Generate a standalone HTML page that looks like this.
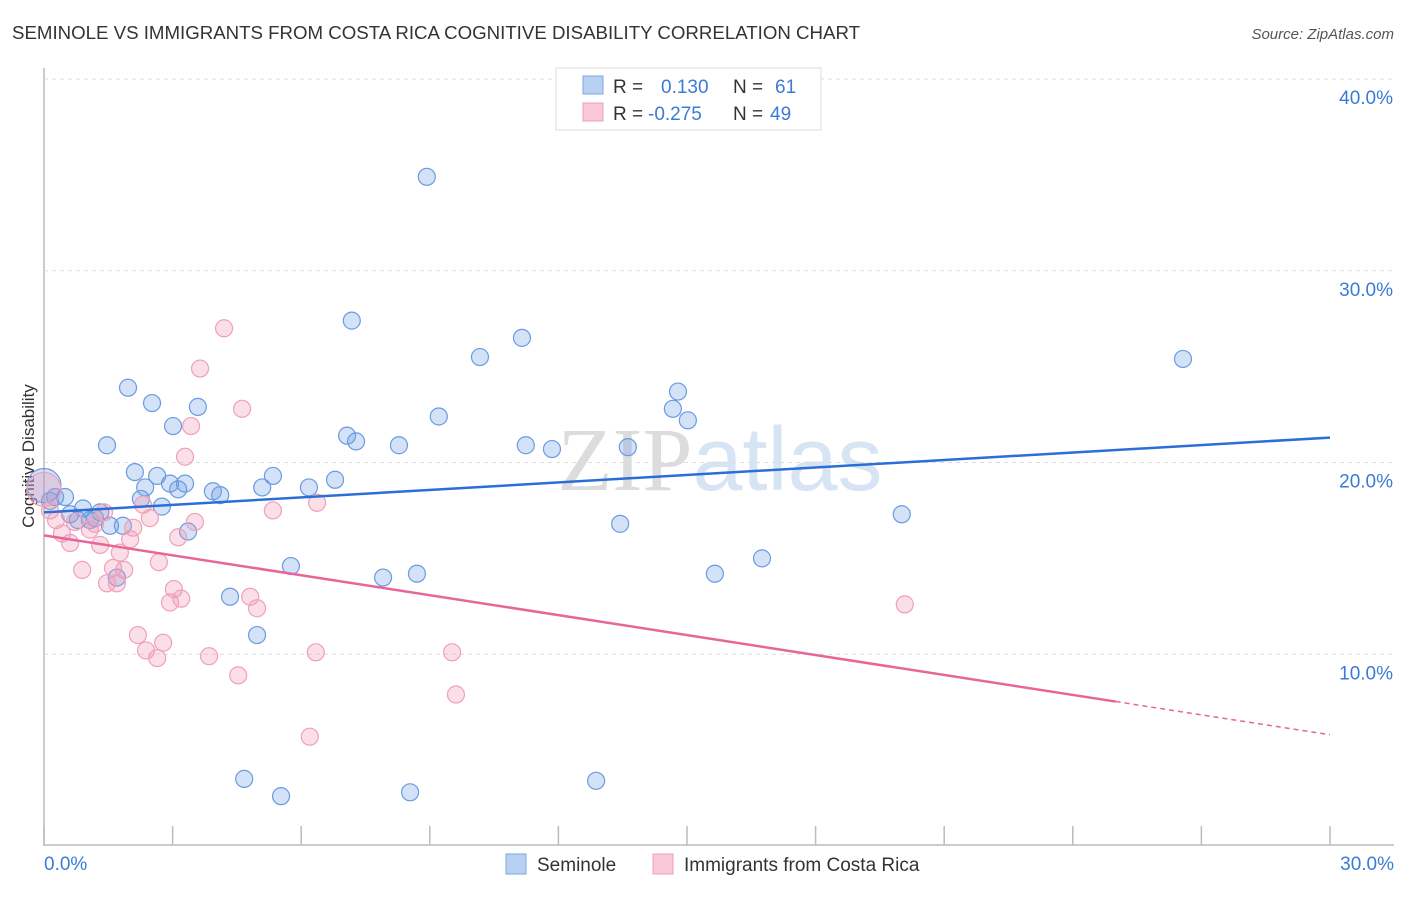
<!DOCTYPE html>
<html><head><meta charset="utf-8"><style>
body{margin:0;background:#fff;font-family:"Liberation Sans",sans-serif;}
</style></head><body>
<svg id="chart" width="1406" height="892" xmlns="http://www.w3.org/2000/svg" font-family="Liberation Sans, sans-serif">
<text x="12" y="39" font-size="18" fill="#333" textLength="848" lengthAdjust="spacingAndGlyphs">SEMINOLE VS IMMIGRANTS FROM COSTA RICA COGNITIVE DISABILITY CORRELATION CHART</text>
<text x="1394" y="39" font-size="15" fill="#555" text-anchor="end" font-style="italic">Source: ZipAtlas.com</text>
<text transform="translate(34,456) rotate(-90)" font-size="17" fill="#333" text-anchor="middle">Cognitive Disability</text>
<text x="720" y="490" font-size="90" text-anchor="middle" fill="#e4e8ee"><tspan font-family="Liberation Serif, serif" fill="#dcdcdc">ZIP</tspan><tspan fill="#d6e4f4">atlas</tspan></text>
<g id="grid"></g><g id="marks"></g>
<g>
<rect x="556" y="68" width="265" height="62" fill="#fff" stroke="#ddd"/>
<rect x="583" y="76" width="20" height="18" fill="#b8d0f2" stroke="#7ea6e0"/>
<rect x="583" y="103" width="20" height="18" fill="#f8c8d8" stroke="#f0a0b8"/>
<text x="613" y="93" font-size="19" fill="#333">R =</text>
<text x="661" y="93" font-size="19" fill="#3a7bd5">0.130</text>
<text x="733" y="93" font-size="19" fill="#333">N =</text>
<text x="775" y="93" font-size="19" fill="#3a7bd5">61</text>
<text x="613" y="120" font-size="19" fill="#333">R =</text>
<text x="648" y="120" font-size="19" fill="#3a7bd5">-0.275</text>
<text x="733" y="120" font-size="19" fill="#333">N =</text>
<text x="770" y="120" font-size="19" fill="#3a7bd5">49</text>
</g>
<g>
<rect x="506" y="854" width="20" height="20" fill="#b8d0f2" stroke="#7ea6e0"/>
<text x="537" y="871" font-size="19" fill="#333">Seminole</text>
<rect x="653" y="854" width="20" height="20" fill="#f8c8d8" stroke="#f0a0b8"/>
<text x="684" y="871" font-size="19" fill="#333">Immigrants from Costa Rica</text>
</g>
</svg>
<script>
const xTicks=[0,3,6,9,12,15,18,21,24,27,30];
const yTicks=[10,20,30,40];
const blueX=[0,0.14,0.26,0.49,0.61,0.79,0.91,1.07,1.19,1.31,1.47,1.54,1.70,1.84,1.96,2.12,2.26,2.36,2.52,2.64,2.75,2.94,3.01,3.13,3.29,3.36,3.59,3.94,4.11,4.34,4.67,4.97,5.09,5.34,5.53,5.76,6.18,6.79,7.07,7.18,7.28,7.91,8.28,8.54,8.70,8.93,9.21,10.17,11.15,11.24,11.85,12.88,13.44,13.62,14.67,14.79,15.02,15.65,16.75,20.01,26.57];
const blueY=[18.8,18.0,18.2,18.2,17.3,17.0,17.6,17.0,17.1,17.4,20.9,16.7,14.0,16.7,23.9,19.5,18.1,18.7,23.1,19.3,17.7,18.9,21.9,18.6,18.9,16.4,22.9,18.5,18.3,13.0,3.5,11.0,18.7,19.3,2.6,14.6,18.7,19.1,21.4,27.4,21.1,14.0,20.9,2.8,14.2,34.9,22.4,25.5,26.5,20.9,20.7,3.4,16.8,20.8,22.8,23.7,22.2,14.2,15.0,17.3,25.4];
const pinkX=[0,0.14,0.28,0.42,0.61,0.72,0.89,1.07,1.19,1.31,1.40,1.47,1.61,1.70,1.77,1.87,2.01,2.08,2.19,2.31,2.38,2.47,2.64,2.68,2.78,2.94,3.03,3.13,3.20,3.29,3.43,3.52,3.64,3.85,4.20,4.53,4.62,4.81,4.97,5.34,6.20,6.34,6.37,9.52,9.61,20.08];
const pinkY=[18.6,17.5,17.0,16.3,15.8,16.9,14.4,16.5,16.8,15.7,17.4,13.7,14.5,13.7,15.3,14.4,16.0,16.6,11.0,17.8,10.2,17.1,9.8,14.8,10.6,12.7,13.4,16.1,12.9,20.3,21.9,16.9,24.9,9.9,27.0,8.9,22.8,13.0,12.4,17.5,5.7,10.1,17.9,10.1,7.9,12.6];
const blueTrend=[17.4,21.3];
const pinkTrend=[16.2,5.8];
const pinkSolidEnd=25;
const X=v=>44+v*1286/30, Y=v=>846-v*19.175;
const NS="http://www.w3.org/2000/svg";
function mk(t,a,p){const e=document.createElementNS(NS,t);for(const k in a)e.setAttribute(k,a[k]);p.appendChild(e);return e;}
const g=document.getElementById('grid'), m=document.getElementById('marks');
let ax=mk('line',{x1:44,y1:68,x2:44,y2:846,stroke:'#bbb','stroke-width':1.5},g);


let bx=mk('line',{x1:44,y1:845,x2:1394,y2:845,stroke:'#bbb','stroke-width':1.5},g);


yTicks.forEach(t=>{
 const l=mk('line',{x1:44,y1:Y(t),x2:1394,y2:Y(t),stroke:'#ddd','stroke-dasharray':'4,4'},g);
 
 
 const tx=mk('text',{x:1393,y:Y(t)+25,'font-size':19,fill:'#3a7bd5','text-anchor':'end'},g);tx.textContent=t.toFixed(1)+'%';
 
 
});
xTicks.forEach(t=>{
 const l=mk('line',{x1:X(t),y1:826,x2:X(t),y2:845,stroke:'#bbb','stroke-width':1.5},g);
 
 
});
[[0,'0.0%',44,'start'],[30,'30.0%',1394,'end']].forEach(d=>{
 const tx=mk('text',{x:d[2],y:870,'font-size':19,fill:'#3a7bd5','text-anchor':d[3]},g);tx.textContent=d[1];
 
 
});
function pts(xs,ys,fill,stroke,name){xs.forEach((x,i)=>{
 const c=mk('circle',{cx:X(x),cy:Y(ys[i]),r:i===0&&x===0?17:8.5,fill:fill,stroke:stroke,'stroke-width':1.2},m);
 
 
});}
pts(blueX,blueY,'rgba(110,160,230,0.3)','#6a9be0','seminole-point');
pts(pinkX,pinkY,'rgba(240,150,180,0.3)','#f0a0b8','costa-rica-point');
let bl=mk('line',{x1:X(0),y1:Y(blueTrend[0]),x2:X(30),y2:Y(blueTrend[1]),stroke:'#2a6fd6','stroke-width':2.5},m);


const pAt=x=>pinkTrend[0]+(pinkTrend[1]-pinkTrend[0])*x/30;
let pl=mk('line',{x1:X(0),y1:Y(pAt(0)),x2:X(pinkSolidEnd),y2:Y(pAt(pinkSolidEnd)),stroke:'#e8659a','stroke-width':2.5},m);


let pd=mk('line',{x1:X(pinkSolidEnd),y1:Y(pAt(pinkSolidEnd)),x2:X(30),y2:Y(pAt(30)),stroke:'#e8659a','stroke-width':1.5,'stroke-dasharray':'5,4'},m);


</script>
</body></html>
